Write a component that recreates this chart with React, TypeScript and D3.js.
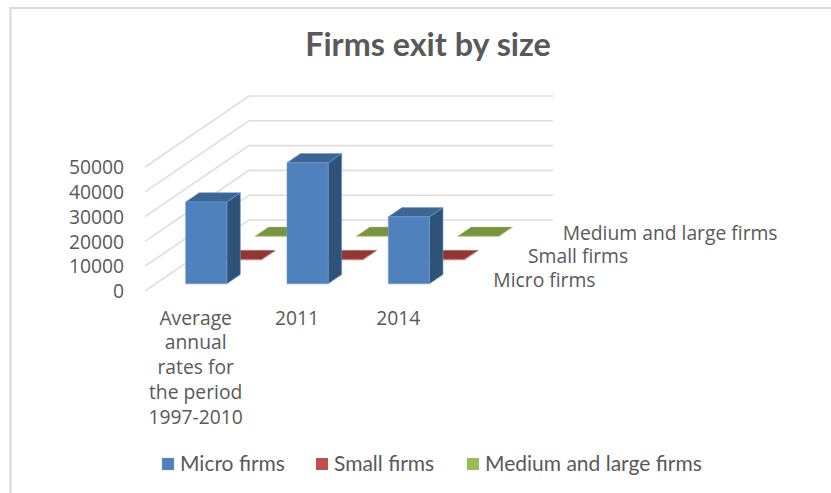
import React from 'react'
import * as d3 from 'd3'

const categories = [
  ['Average', 'annual', 'rates for', 'the period', '1997-2010'],
  ['2011'],
  ['2014'],
]
const categoryKeys = ['Average annual rates for the period 1997-2010', '2011', '2014']
const seriesNames = ['Micro firms', 'Small firms', 'Medium and large firms']
const microFirms = [33000, 48800, 27000]
const smallFirms = [300, 300, 300]
const mediumLargeFirms = [100, 100, 100]
const yTicks = [0, 10000, 20000, 30000, 40000, 50000]

const seriesValues = [microFirms, smallFirms, mediumLargeFirms]
const faceColors = ['#4f81bd', '#c0504d', '#9bbb59']
const topColors = ['#3c6594', '#8f3735', '#789440']
const sideColors = ['#2f5279', '#7a2e2c', '#64803a']
const legendSwatchX = [162, 316, 467]
const textColor = '#595959'
const legendFont = 'Lato, "Open Sans", sans-serif'
const axisFont = '"Open Sans", Lato, sans-serif'

const W = 831
const H = 493
const floorLeft = 145
const floorRight = 449
const floorFront = 291
const depthX = 104
const depthY = 71

const x = d3.scaleBand<string>().domain(categoryKeys).range([floorLeft, floorRight]).paddingInner(0.594).paddingOuter(0.297)
const depth = d3.scaleBand<string>().domain(seriesNames).range([0, 1]).paddingInner(0.61).paddingOuter(0.305)
const y = d3.scaleLinear().domain([0, 50000]).range([0, 124])

// oblique projection: u along the floor, d into the chart, v up the value axis
const project = (u: number, d: number, v: number): [number, number] => [u + depthX * d, floorFront - depthY * d - y(v)]
const poly = (pts: [number, number][]) => d3.line()(pts) + 'Z'

function Bar({ cat, s, value }: { cat: string; s: number; value: number }) {
  const x0 = x(cat)!
  const x1 = x0 + x.bandwidth()
  const d0 = depth(seriesNames[s])!
  const d1 = d0 + depth.bandwidth()
  const edge = s === 0 ? '#6f9bd1' : s === 1 ? '#d98a88' : '#b5cf83'
  const dash = s === 0 ? undefined : '3 2'
  return (
    <g stroke={edge} strokeWidth={0.6} strokeDasharray={dash} strokeLinejoin="round">
      <path d={poly([project(x1, d0, 0), project(x1, d1, 0), project(x1, d1, value), project(x1, d0, value)])} fill={sideColors[s]} />
      <path d={poly([project(x0, d0, value), project(x1, d0, value), project(x1, d1, value), project(x0, d1, value)])} fill={topColors[s]} />
      <path d={poly([project(x0, d0, 0), project(x1, d0, 0), project(x1, d0, value), project(x0, d0, value)])} fill={faceColors[s]} />
    </g>
  )
}

export default function App() {
  const order = d3.range(seriesNames.length).reverse()
  return (
    <svg width={W} height={H} style={{ position: 'absolute', left: 0, top: 0, background: '#fff' }} fontFamily={axisFont}>
      <path d={`M10.5,${H}V8H${W}`} fill="none" stroke="#d9d9d9" strokeWidth={2} />
      <text x={428} y={56} textAnchor="middle" fontSize={32.3} fontWeight={700} fontFamily={legendFont} fill={textColor}>Firms exit by size</text>

      {yTicks.map(t => {
        const line = d3.line()([project(floorLeft, 0, t), project(floorLeft, 1, t), project(floorRight, 1, t)])!
        return <path key={t} d={line} fill="none" stroke="#dedede" strokeWidth={1.6} />
      })}
      {yTicks.map(t => (
        <text key={t} x={124} y={project(floorLeft, 0, t)[1] + 0.5} dy="0.35em" textAnchor="end" fontSize={19.3} fill={textColor}>{t}</text>
      ))}

      {order.map(s => categoryKeys.map((cat, i) => <Bar key={`${s}-${i}`} cat={cat} s={s} value={seriesValues[s][i]} />))}

      {categories.map((lines, i) => (
        <text key={i} textAnchor="middle" fontSize={19.3} fill={textColor}>
          {lines.map((l, j) => (
            <tspan key={j} x={x(categoryKeys[i])! + x.bandwidth() / 2} y={318 + j * 24.7} dy="0.35em">{l}</tspan>
          ))}
        </text>
      ))}

      {seriesNames.map(name => {
        const [px, py] = project(floorRight, depth(name)! + depth.bandwidth() / 2, 0)
        return <text key={name} x={px + 27} y={py + 1} dy="0.35em" fontSize={19.3} fill={textColor}>{name}</text>
      })}

      {seriesNames.map((name, s) => (
        <g key={name}>
          <rect x={legendSwatchX[s]} y={458} width={12} height={12} fill={faceColors[s]} />
          <text x={legendSwatchX[s] + 18} y={464} dy="0.35em" fontSize={21} fontFamily={legendFont} fill={textColor}>{name}</text>
        </g>
      ))}
    </svg>
  )
}
